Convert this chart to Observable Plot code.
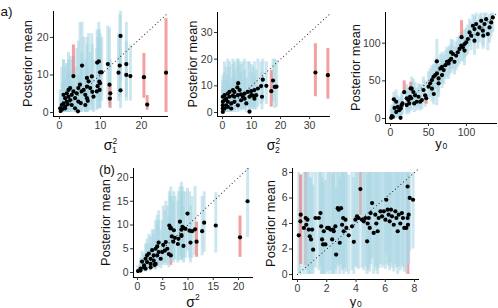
<!DOCTYPE html>
<html>
<head>
<meta charset="utf-8">
<script src="https://cdn.jsdelivr.net/npm/d3@7"></script>
<script src="https://cdn.jsdelivr.net/npm/@observablehq/plot@0.6"></script>
<style>
  body { margin: 0; background: #fff; }
  #chart { position: relative; width: 498px; height: 308px; overflow: hidden; }
  #chart svg { position: absolute; left: 0; top: 0; }
</style>
</head>
<body>
<div id="chart"></div>
<script>
// Each row: [true value, posterior mean, interval low, interval high].
// Rows are listed in drawing order.
const sigma1Rows = [
  [0.16, 1.1, 0, 6], [0.3, 0.4, 0, 4], [0.57, 2.0, 0, 12], [0.7, 0.9, 0, 8],
  [0.98, 2.4, 0, 14], [0.98, 4.7, 0.2, 14], [1.38, 1.5, 0, 9], [1.38, 3.8, 0, 12],
  [1.38, 1.1, 0, 5], [1.79, 2.9, 0, 13], [1.79, 5.1, 0.5, 13], [2.0, 2.2, 0, 11],
  [2.2, 4.2, 0, 16], [2.2, 6.0, 0.5, 14], [2.6, 3.3, 0, 11], [2.6, 6.5, 1, 15],
  [3.0, 4.7, 0.5, 14], [3.0, 2.0, 0, 8], [3.4, 5.6, 1, 15], [3.8, 3.8, 0, 12],
  [3.8, 1.1, 0, 7], [4.2, 5.1, 0.5, 17], [4.5, 0.3, 0, 6], [4.6, 6.5, 1, 19],
  [4.6, 2.9, 0, 10], [5.0, 7.4, 1.5, 24], [5.2, 2.5, 0, 12], [5.4, 5.6, 0, 16],
  [5.5, 12.5, 3, 24], [5.9, 6.0, 0.5, 20], [6.3, 4.7, 0, 14], [6.3, 2.0, 0, 9],
  [6.7, 6.9, 1, 18], [6.7, 9.2, 2, 20], [6.7, 3.8, 0, 13], [6.9, 3.1, 0, 11],
  [7.1, 8.3, 2, 21], [7.5, 6.5, 0.5, 16], [7.9, 9.6, 2, 21], [8.0, 5.5, 0.5, 18],
  [8.3, 4.2, 0, 14], [9.1, 5.6, 0.5, 17], [9.2, 13.3, 4, 22], [9.3, 7.0, 1, 20],
  [9.6, 13.6, 4, 24], [9.7, 8.2, 1.5, 22], [9.8, 6.0, 1, 17], [9.9, 7.8, 1, 19],
  [9.9, 10.7, 3, 21], [10.3, 10.7, 3, 20], [11.8, 12.9, 3, 23], [12.2, 7.4, 2, 22.5],
  [12.4, 5.1, 1, 14], [14.4, 10.6, 3, 21], [14.7, 12.5, 4, 26], [14.9, 20.4, 8, 27],
  [14.9, 5.9, 1, 16], [16.3, 12.9, 4, 24], [16.3, 10.0, 3, 19], [17.3, 9.7, 3, 18],
  [3.4, 9.7, 9, 18], [12.3, 3.7, 1.2, 7.3], [20.6, 9.4, 3.8, 15.7],
  [21.4, 2.1, 0.6, 4.5], [26.0, 10.6, 0, 25]
];

const sigma2Rows = [
  [0.1, 5.9, 0, 14], [0.11, 4.0, 0, 12], [0.1, 2.7, 0, 10], [0.1, 1.5, 0, 8],
  [0.11, 0.2, 0, 6], [0.69, 6.5, 0, 19], [0.69, 4.6, 0, 15], [0.69, 1.5, 0, 9],
  [1.26, 5.2, 0, 17], [1.26, 2.7, 0, 12], [1.84, 7.1, 0.5, 20], [1.84, 4.0, 0, 14],
  [1.84, 2.1, 0, 11], [2.4, 5.9, 0, 17], [2.4, 7.7, 1, 19], [3.0, 3.4, 0, 13],
  [3.0, 1.5, 0, 10], [3.6, 6.3, 0.5, 18], [3.6, 8.4, 1, 20], [4.1, 7.7, 1, 19],
  [4.1, 4.0, 0, 14], [4.1, 5.9, 0.5, 16], [5.1, 9.4, 2, 20], [5.4, 11.0, 3, 20],
  [5.3, 6.5, 1, 17], [5.3, 2.7, 0, 12], [5.9, 8.4, 1.5, 19], [6.4, 6.8, 1, 18],
  [6.4, 4.6, 0.5, 15], [7.0, 5.9, 1, 19], [7.6, 7.1, 1, 20], [7.6, 5.2, 1, 16],
  [8.2, 3.4, 0, 13], [8.7, 7.7, 2, 19], [9.3, 5.9, 1, 19], [9.3, 0.3, 0, 10],
  [9.9, 8.0, 2, 18], [9.9, 6.5, 1, 15], [10.5, 6.3, 1, 17], [11.0, 8.4, 2, 19],
  [11.0, 5.2, 1, 14], [11.6, 6.5, 1, 16], [12.2, 9.0, 2, 20], [13.3, 9.9, 3, 19],
  [13.6, 5.9, 1, 15], [13.9, 12.3, 4, 20], [15.1, 10.0, 3, 19], [17.4, 12.0, 4, 20],
  [18.0, 9.6, 1.5, 20], [18.6, 9.7, 2, 19.5],
  [16.8, 8.0, 2, 15.7], [32.0, 15.0, 5.9, 25.8], [36.3, 14.0, 5.0, 24.0]
];

const y0Rows = [
  [0.9, 0.9, 0, 12], [1.8, 3.3, 0, 18], [3, 2, 0, 15], [4.4, 25.5, 2, 35],
  [5.3, 14.1, 0, 28], [7.5, 8.8, 0, 22], [7.5, 22.3, 3, 38], [9.6, 15.4, 2, 30],
  [11.4, 11.0, 1, 26], [13.2, 0.9, 0, 15], [13.6, 13.6, 2, 28], [14.5, 17.9, 4, 33],
  [15.8, 20.1, 5, 35], [21.3, 17.9, 5, 36], [21.3, 26.9, 10, 45], [23.5, 24.5, 8, 40],
  [24.6, 20.1, 6, 38], [25.7, 28.9, 12, 42], [27.2, 26.9, 10, 44], [27.9, 39.6, 20, 55],
  [30.1, 35.2, 18, 52], [31.2, 20.1, 8, 38], [32.3, 30.8, 15, 48], [34.6, 22.3, 10, 40],
  [36.8, 28.9, 14, 46], [39, 22.3, 10, 45], [41.2, 24.5, 12, 45], [43.4, 37.9, 20, 55],
  [45.6, 30.8, 15, 50], [50.0, 42.3, 25, 62], [52.2, 46.7, 28, 66], [54.5, 51.1, 32, 70],
  [54.5, 39.6, 22, 58], [56.7, 55.5, 35, 72], [57, 32.6, 18, 58], [58.9, 57.7, 38, 78],
  [61, 76, 17, 105], [61.1, 59.9, 40, 80], [63.3, 53.3, 34, 72], [63.3, 46.7, 28, 66],
  [65.6, 66.5, 45, 85], [67.8, 68.7, 48, 88], [67.8, 57.7, 40, 78], [70.0, 64.3, 45, 84],
  [72.2, 70.9, 52, 90], [74.3, 75.3, 55, 95], [76.4, 73.1, 52, 92], [77.6, 77.0, 58, 96],
  [79.8, 79.2, 60, 98], [79.8, 88, 66, 105], [82.0, 85.8, 65, 104], [84.2, 75.3, 58, 95],
  [86.4, 83.6, 64, 102], [88.6, 88.0, 68, 108], [90.8, 92.4, 72, 110], [93.0, 96.8, 76, 114],
  [95.2, 94.6, 75, 112], [97.4, 99.0, 80, 118], [97.4, 90.2, 70, 108], [99.6, 101.2, 82, 120],
  [101.8, 105.6, 85, 124], [104, 114.4, 95, 132], [106.1, 110, 90, 128], [108.4, 123.2, 104, 138],
  [110.5, 118.8, 98, 136], [110.5, 103.4, 84, 122], [112.7, 125.4, 105, 140], [114.9, 112.2, 92, 130],
  [117.1, 121.0, 100, 138], [119.3, 129.8, 110, 140], [121.5, 116.6, 96, 134], [122, 110, 92, 128],
  [123.7, 125.4, 106, 140], [125.9, 132.0, 112, 140], [128.1, 112.2, 90, 130], [130.3, 121.0, 100, 138],
  [132.5, 127.6, 108, 140], [134.6, 134.2, 114, 140],
  [18.0, 35.0, 34, 50], [26.5, 40, 38, 48], [47, 26.9, 19, 31], [93.5, 108, 106, 130]
];

const sigmaRows = [
  [3.4, 1.6, 0.8, 3.2], [6.6, 3.6, 1.5, 6.3],
  [0.1, 0.3, 0, 1.5], [0.6, 0.4, 0, 2.5], [0.6, 0.8, 0, 3], [0.9, 2.3, 0.5, 4.5],
  [1.3, 1.5, 0.3, 4], [1.3, 1.1, 0.2, 3.5], [1.6, 2.9, 0.8, 6], [1.6, 0.8, 0.1, 3.5],
  [1.9, 2.2, 0.5, 6], [1.9, 3.6, 1, 7], [2.25, 4.0, 1.2, 8], [2.6, 2.9, 0.8, 7.5],
  [2.6, 1.8, 0.4, 6], [2.6, 1.1, 0.3, 5], [2.9, 4.7, 1.5, 9], [3.2, 3.6, 1, 9],
  [3.2, 2.5, 0.7, 8], [3.6, 5.0, 1.5, 11], [3.6, 1.8, 0.5, 7], [3.9, 5.5, 2, 12],
  [3.9, 3.6, 1, 10], [4.2, 6.3, 2, 13], [4.2, 4.3, 1.2, 11], [4.6, 2.9, 0.8, 9],
  [4.9, 4.3, 1.5, 11], [5.1, 5.8, 2, 14], [5.4, 4.6, 1.5, 13], [5.6, 6.4, 2, 15],
  [5.9, 5.0, 1.5, 14], [6.2, 3.9, 1, 12], [6.3, 9.9, 3, 17], [6.5, 9.3, 3, 16],
  [6.6, 9.4, 3, 18], [6.8, 7.6, 2.5, 16], [7.1, 6.5, 2, 15], [7.2, 8.9, 3, 17],
  [7.4, 7.3, 2.5, 16], [8.0, 6.0, 2, 15], [8.1, 7.1, 2.5, 17], [8.4, 10.7, 3.5, 18],
  [8.7, 9.0, 3, 19], [8.7, 7.7, 2.5, 17], [8.7, 7.9, 2.5, 16], [8.9, 9.6, 3, 18],
  [9.1, 9.4, 3, 17], [9.1, 5.6, 2, 14], [9.5, 9.2, 3, 17], [9.9, 12.4, 4.5, 17.7],
  [10.3, 8.8, 3, 17], [10.5, 6.3, 2, 14], [10.8, 8.7, 3, 16], [11.4, 9.1, 3.6, 18.1],
  [12.8, 8.7, 3.5, 16], [13.2, 10.5, 4.3, 17], [15.5, 9.9, 4.1, 16.8], [21.8, 15.0, 7.4, 21.9],
  [11.7, 6.5, 3.2, 10.6], [20.3, 7.4, 3.2, 11.9]
];

const y0BoundedRows = [
  [0.56, 4.43, 0.7, 8], [4.3, 6.7, 4.6, 8], [7.55, 3.9, 0, 7.3],
  [0.09, 3.07, 0, 8], [0.2, 4.17, 0, 7.8], [0.44, 3.65, 0, 8], [0.68, 4.3, 0, 8],
  [0.6, 3.9, 0.3, 7.8], [0.77, 3.52, 0, 8], [0.84, 3.0, 0, 7.6], [0.93, 2.75, 0, 7.5],
  [1.0, 3.52, 0.3, 8], [1.07, 1.95, 0, 7], [1.23, 4.43, 0.5, 8], [1.46, 4.43, 0.3, 8],
  [1.57, 4.82, 0.6, 8], [1.62, 3.78, 0, 8], [1.68, 2.75, 0, 7.6], [1.75, 2.36, 0, 7.2],
  [1.8, 3.39, 0, 8], [1.91, 2.36, 0, 7.4], [2.03, 3.65, 0.2, 8], [2.14, 3.65, 0, 8],
  [2.25, 3.52, 0.3, 8], [2.37, 2.75, 0, 7.8], [2.43, 3.52, 0, 8], [2.48, 3.39, 0.1, 8],
  [2.59, 3.78, 0.4, 8], [2.64, 1.56, 0, 6.8], [2.75, 5.2, 0.8, 8], [2.82, 5.08, 0.6, 8],
  [2.89, 2.49, 0, 7.6], [2.98, 5.2, 0.8, 8], [3.05, 3.9, 0.3, 8], [3.12, 4.43, 0.4, 8],
  [3.16, 3.39, 0, 8], [3.28, 4.3, 0.5, 8], [3.34, 3.65, 0.2, 8], [3.5, 3.07, 0, 7.8],
  [3.73, 3.78, 0.3, 8], [3.85, 2.56, 0, 7.6], [3.96, 4.3, 0.6, 8], [4.07, 4.56, 0.5, 8],
  [4.18, 4.43, 0.4, 8], [4.41, 4.3, 0.5, 8], [4.53, 4.17, 0.3, 8], [4.64, 4.43, 0.6, 8],
  [4.76, 2.6, 0, 7.8], [4.8, 4.0, 0.3, 8], [4.87, 4.43, 0.5, 8], [4.94, 3.65, 0.2, 8],
  [5.0, 4.82, 0.8, 8], [5.1, 5.6, 1.2, 8], [5.21, 3.26, 0, 8], [5.32, 4.69, 0.6, 8],
  [5.39, 4.0, 0.3, 8], [5.48, 3.39, 0, 8], [5.55, 4.43, 0.5, 8], [5.67, 4.95, 0.8, 8],
  [5.78, 4.56, 0.5, 8], [5.9, 4.95, 0.7, 8], [6.01, 4.3, 0.4, 8], [6.07, 5.86, 1.5, 8],
  [6.16, 5.08, 0.8, 8], [6.23, 4.69, 0.6, 8], [6.3, 4.17, 0.3, 8], [6.39, 5.08, 0.9, 8],
  [6.46, 4.56, 0.5, 8], [6.58, 3.9, 0.2, 8], [6.69, 4.95, 0.8, 8], [6.76, 4.43, 0.5, 8],
  [6.85, 3.39, 0, 8], [6.92, 4.69, 0.6, 8], [7.03, 4.0, 0.3, 8], [7.14, 4.82, 0.7, 8],
  [7.21, 4.43, 0.5, 8], [7.3, 3.65, 0.2, 8], [7.44, 3.65, 0.1, 8], [7.53, 6.9, 2.5, 8],
  [7.6, 4.69, 0.8, 8], [7.53, 4.43, 0.8, 8], [7.67, 6.0, 1.8, 8], [7.9, 5.86, 2.0, 8],
  [0.22, 4.69, 0.8, 7.8]
];

// Tick values per panel
const sigma1Ticks = [0, 10, 20];
const sigma2Ticks = [0, 10, 20, 30];
const y0Ticks = [0, 50, 100];
const sigmaTicks = [0, 5, 10, 15, 20];
const y0BoundedTicks = [0, 2, 4, 6, 8];

// Text
const panelTags = ["a)", "(b)"];
const yTitle = "Posterior mean";
const xTitles = [
  {base: "σ", sup: "2", sub: "1"},
  {base: "σ", sup: "2", sub: "2"},
  {base: "y", sup: "", sub: "0"},
  {base: "σ", sup: "2", sub: ""},
  {base: "y", sup: "", sub: "0"}
];

const W = 498, H = 308;
const FONT = "'Liberation Sans', Arial, Helvetica, sans-serif";
const COVER = "rgba(168, 214, 228, 0.58)";
const MISS = "rgba(240, 128, 128, 0.75)";

// Layout: frame [left, right, top, bottom] in px, plus domains and title anchors
const panels = [
  {rows: sigma1Rows, ticks: sigma1Ticks, frame: [53, 168, 11, 116], x: [-1.46, 26.6], y: [-1.07, 26.9],
   yTitleX: 27, xTitleY: 150},
  {rows: sigma2Rows, ticks: sigma2Ticks, frame: [217, 330, 12, 116], x: [-1.72, 37.2], y: [-1.5, 37.5],
   yTitleX: 192, xTitleY: 150},
  {rows: y0Rows, ticks: y0Ticks, frame: [385, 497, 12, 123], x: [-6.6, 140.8], y: [-6.6, 140.8],
   yTitleX: 355, xTitleY: 147.5},
  {rows: sigmaRows, ticks: sigmaTicks, frame: [133, 253, 168, 277], x: [-0.79, 22.97], y: [-1.05, 21.9],
   yTitleX: 105, xTitleY: 306.5},
  {rows: y0BoundedRows, ticks: y0BoundedTicks, frame: [292, 419, 168, 279], x: [-0.34, 8.34], y: [-0.39, 8.31],
   yTitleX: 270, xTitleY: 305.5}
];

const chart = document.getElementById("chart");

function drawPanel(p) {
  const [l, r, t, b] = p.frame;
  const rows = p.rows.map(([truth, mean, lo, hi]) => ({truth, mean, lo, hi, covered: lo <= truth && truth <= hi}));
  const lim = Math.min(p.x[1], p.y[1]);
  const common = {tickSize: 3, fontSize: 10.5, label: null, stroke: "#333", fill: "#3a3a3a"};
  return Plot.plot({
    width: W, height: H,
    marginLeft: l, marginRight: W - r, marginTop: t, marginBottom: H - b,
    x: {domain: p.x},
    y: {domain: p.y},
    color: {type: "identity"},
    style: {background: "transparent", overflow: "visible", fontFamily: FONT, maxWidth: "none"},
    marks: [
      Plot.ruleX(rows, {x: "truth", y1: "lo", y2: "hi", stroke: d => d.covered ? COVER : MISS, strokeWidth: 3}),
      Plot.line([[0, 0], [lim, lim]], {stroke: "#222", strokeWidth: 1.1, strokeDasharray: "0.01,3.6", strokeLinecap: "round"}),
      Plot.dot(rows, {x: "truth", y: "mean", r: 2.1, fill: "black", stroke: "none"}),
      Plot.ruleX([p.x[0]], {stroke: "black", strokeWidth: 1}),
      Plot.ruleY([p.y[0]], {stroke: "black", strokeWidth: 1}),
      Plot.axisX(p.ticks, {...common, tickPadding: 2.5}),
      Plot.axisY(p.ticks, {...common, tickPadding: 2})
    ]
  });
}

panels.forEach(p => chart.appendChild(drawPanel(p)));

// Titles and panel tags
const overlay = d3.select(chart).append("svg")
  .attr("width", W).attr("height", H)
  .style("font-family", FONT)
  .style("pointer-events", "none");

overlay.append("text").attr("x", 0.5).attr("y", 16).attr("font-size", 13.5).attr("fill", "#111").text(panelTags[0]);
overlay.append("text").attr("x", 107).attr("y", 174).attr("font-size", 13).attr("fill", "#111")
  .attr("text-anchor", "middle").text(panelTags[1]);

panels.forEach((p, i) => {
  const [l, r, t, b] = p.frame;
  const cy = (t + b) / 2;
  overlay.append("text")
    .attr("transform", `translate(${p.yTitleX},${cy}) rotate(-90)`)
    .attr("text-anchor", "middle").attr("dominant-baseline", "central")
    .attr("font-size", 12.8).attr("fill", "#111").text(yTitle);

  const cx = (l + r) / 2;
  const xt = xTitles[i];
  const g = overlay.append("g").attr("fill", "#111");
  const baseSize = xt.base === "y" ? 13 : 14;
  g.append("text").attr("x", cx - 2.5).attr("y", p.xTitleY).attr("text-anchor", "middle")
    .attr("font-size", baseSize).text(xt.base);
  if (xt.sup) g.append("text").attr("x", cx + 2).attr("y", p.xTitleY - 6.5).attr("font-size", 8.5).text(xt.sup);
  if (xt.sub) g.append("text").attr("x", cx + 1.5).attr("y", p.xTitleY + (xt.base === "y" ? 1.5 : 3)).attr("font-size", 8.5).text(xt.sub);
});
</script>
</body>
</html>
